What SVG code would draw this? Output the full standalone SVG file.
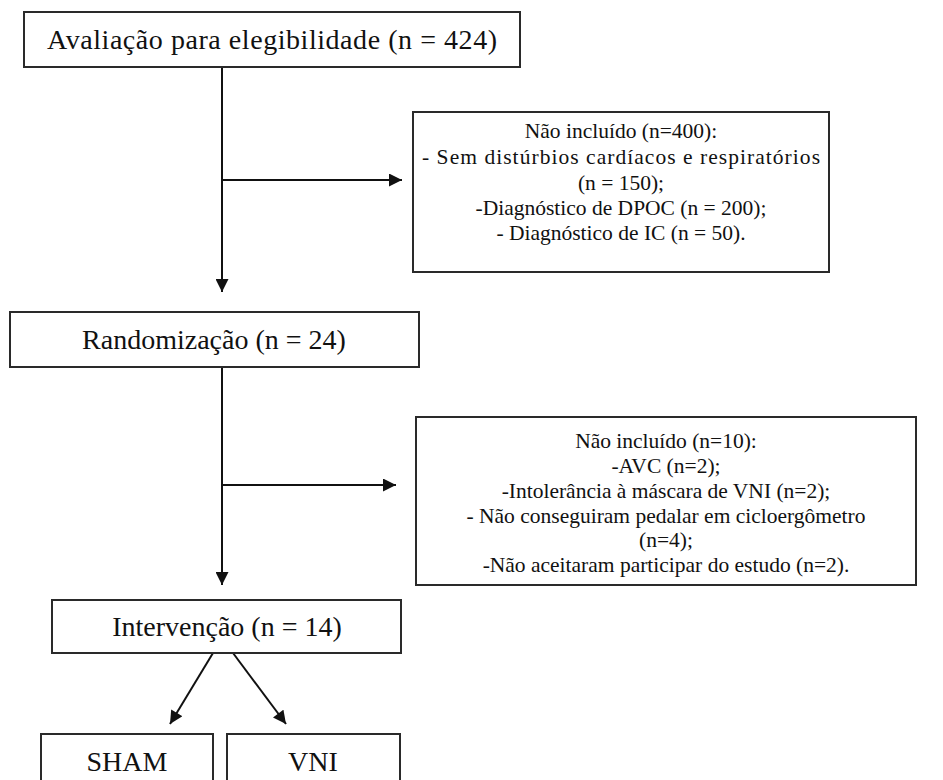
<svg xmlns="http://www.w3.org/2000/svg" width="943" height="780" viewBox="0 0 943 780">
<defs>
<marker id="ah" viewBox="0 0 10 10" refX="10" refY="5" markerWidth="14" markerHeight="13" orient="auto" markerUnits="userSpaceOnUse">
<path d="M0,0 L10,5 L0,10 z" fill="#111"/>
</marker>
<style>
.box{fill:#fff;stroke:#2a2a2a;stroke-width:2}
text{font-family:'Liberation Serif','Times New Roman',serif;fill:#111;text-anchor:middle}
.lbl{font-size:28px}
.txt{font-size:21.5px}
.conn{stroke:#111;stroke-width:2;fill:none;marker-end:url(#ah)}
</style>
</defs>
<rect width="943" height="780" fill="#fff"/>
<g id="connectors">
<line class="conn" x1="222" y1="67" x2="222" y2="292"/>
<line class="conn" x1="222" y1="180" x2="402" y2="180"/>
<line class="conn" x1="222" y1="367" x2="222" y2="585"/>
<line class="conn" x1="222" y1="485" x2="396" y2="485"/>
<line class="conn" x1="213" y1="653" x2="170" y2="724"/>
<line class="conn" x1="233" y1="653" x2="286" y2="724"/>
</g>
<g id="n1">
<rect class="box" x="24" y="12" width="496" height="55"/>
<text class="lbl" x="272" y="49" textLength="450" lengthAdjust="spacing">Avaliação para elegibilidade (n = 424)</text>
</g>
<g id="n2">
<rect class="box" x="413" y="112" width="416" height="160"/>
<text class="txt" x="621" y="138">Não incluído (n=400):</text>
<text class="txt" x="621" y="164" textLength="398" lengthAdjust="spacing">- Sem distúrbios cardíacos e respiratórios</text>
<text class="txt" x="621" y="190">(n = 150);</text>
<text class="txt" x="621" y="215">-Diagnóstico de DPOC (n = 200);</text>
<text class="txt" x="621" y="240">- Diagnóstico de IC (n = 50).</text>
</g>
<g id="n3">
<rect class="box" x="10" y="312" width="409" height="55"/>
<text class="lbl" x="214" y="349">Randomização (n = 24)</text>
</g>
<g id="n4">
<rect class="box" x="416" y="417" width="500" height="168"/>
<text class="txt" x="666" y="448">Não incluído (n=10):</text>
<text class="txt" x="666" y="473">-AVC (n=2);</text>
<text class="txt" x="666" y="498">-Intolerância à máscara de VNI (n=2);</text>
<text class="txt" x="666" y="523">- Não conseguiram pedalar em cicloergômetro</text>
<text class="txt" x="666" y="547">(n=4);</text>
<text class="txt" x="666" y="572">-Não aceitaram participar do estudo (n=2).</text>
</g>
<g id="n5">
<rect class="box" x="52" y="600" width="349" height="53"/>
<text class="lbl" x="227" y="636">Intervenção (n = 14)</text>
</g>
<g id="n6">
<rect class="box" x="41" y="734" width="172" height="60"/>
<text class="lbl" x="127" y="771">SHAM</text>
</g>
<g id="n7">
<rect class="box" x="227" y="734" width="173" height="60"/>
<text class="lbl" x="313" y="771">VNI</text>
</g>
</svg>
